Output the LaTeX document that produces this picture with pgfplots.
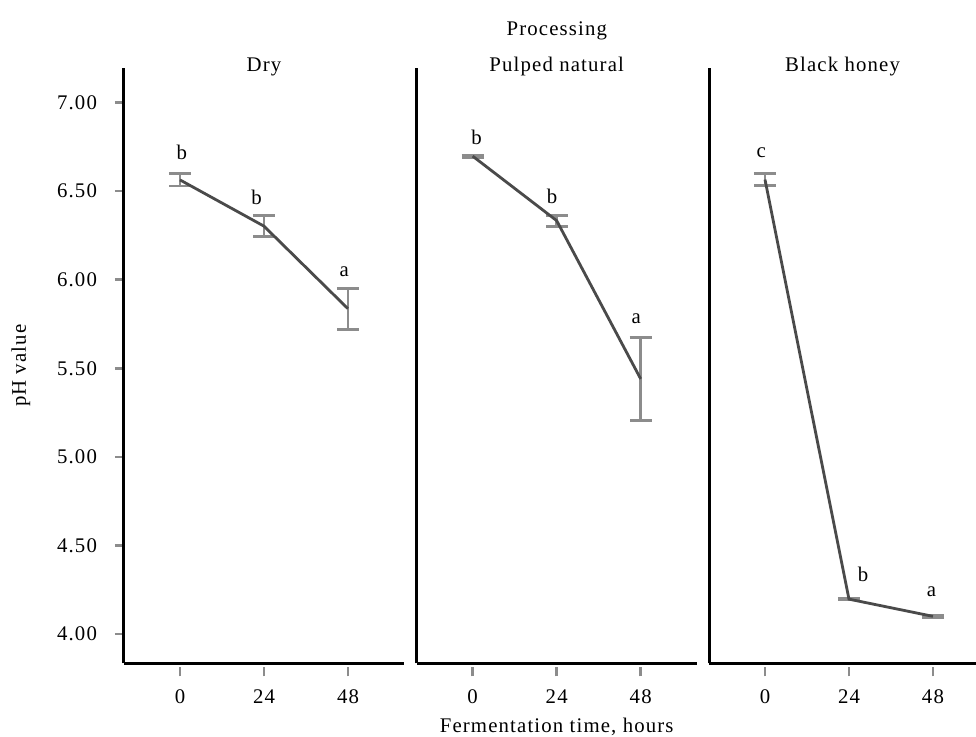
\documentclass[border=0pt]{standalone}
\usepackage{pgfplots}
\usepackage{pgfplotstable}
\pgfplotsset{compat=1.18}
\usepackage{fontspec}
\setmainfont[LetterSpace=5.5]{Liberation Serif}
\definecolor{linec}{HTML}{4A4A4A}
\definecolor{errc}{HTML}{8C8C8C}

\pgfplotstableread{
x y e
0 6.563 0.034
24 6.302 0.059
48 5.836 0.115
}\dry
\pgfplotstableread{
x y lab
0.5 6.68 b
21.9 6.426 b
46.9 6.018 a
}\drylab
\pgfplotstableread{
x y e
0 6.697 0.006
24 6.333 0.031
48 5.440 0.233
}\pulped
\pgfplotstableread{
x y lab
1.1 6.763 b
22.7 6.428 b
46.7 5.755 a
}\pulpedlab
\pgfplotstableread{
x y e
0 6.565 0.035
24 4.197 0.005
48 4.100 0.005
}\black
\pgfplotstableread{
x y lab
-1.1 6.689 c
28.0 4.295 b
47.6 4.212 a
}\blacklab

\begin{document}
\begin{tikzpicture}[font=\fontsize{10.4}{12}\selectfont]
\pgfplotsset{
  panel/.style={
    scale only axis, width=140pt, height=297.6pt,
    xmin=-16, xmax=64, ymin=3.835, ymax=7.194,
    axis x line=bottom, axis y line=left,
    axis line style={-, line width=1.5pt, black},
    xtick={0,24,48},
    tick align=outside,
    major tick length=4.5pt,
    xtick style={errc, line width=1.3pt, yshift=-2pt},
    ytick style={errc, line width=1.3pt},
    /pgf/number format/assume math mode=true,
    xticklabel style={anchor=north, yshift=-5pt},
    yticklabel style={anchor=east, xshift=-5.5pt},
    clip=false,
    title style={at={(axis description cs:0.5,1)}, anchor=base, yshift=-7.7pt},
  },
  errplot/.style={draw=none, mark=none,
    error bars/.cd, y dir=both, y explicit,
    error bar style={errc, line width=1.4pt},
    error mark options={errc, rotate=90, mark size=5.5pt, line width=1.4pt}},
  mainline/.style={linec, line width=1.4pt, mark=none},
  labplot/.style={draw=none, mark=none, nodes near coords, point meta=explicit symbolic,
    every node near coord/.append style={anchor=base, inner sep=0pt, black}},
}
% Panel 1
\begin{axis}[panel, at={(62pt,36.35pt)}, anchor=south west, title={Dry},
  ytick={4,4.5,5,5.5,6,6.5,7},
  yticklabel={\pgfmathprintnumber[fixed,fixed zerofill,precision=2]{\tick}},
  ylabel={pH value},
  ylabel style={at={(axis description cs:0,0.5)}, anchor=center, yshift=51.6pt}]
\addplot[errplot] table[x=x, y=y, y error=e] {\dry};
\addplot[mainline] table[x=x, y=y] {\dry};
\addplot[labplot] table[x=x, y=y, meta=lab] {\drylab};
\end{axis}
% Panel 2
\begin{axis}[panel, at={(208.35pt,36.35pt)}, anchor=south west, title={Pulped natural},
  ytick=\empty,
  xlabel={Fermentation time, hours},
  xlabel style={at={(axis description cs:0.5,0)}, anchor=base, yshift=-34.35pt}]
\addplot[errplot] table[x=x, y=y, y error=e] {\pulped};
\addplot[mainline] table[x=x, y=y] {\pulped};
\addplot[labplot] table[x=x, y=y, meta=lab] {\pulpedlab};
\end{axis}
% Panel 3
\begin{axis}[panel, at={(354.5pt,36.35pt)}, anchor=south west, title={Black honey},
  width=133.5pt, xmax=60.3,
  ytick=\empty]
\addplot[errplot] table[x=x, y=y, y error=e] {\black};
\addplot[mainline] table[x=x, y=y] {\black};
\addplot[labplot] table[x=x, y=y, meta=lab] {\blacklab};
\end{axis}
\node[anchor=base] at (278.4pt,350.5pt) {Processing};
\pgfresetboundingbox
\path (0,0) rectangle (488pt,368pt);
\end{tikzpicture}
\end{document}
